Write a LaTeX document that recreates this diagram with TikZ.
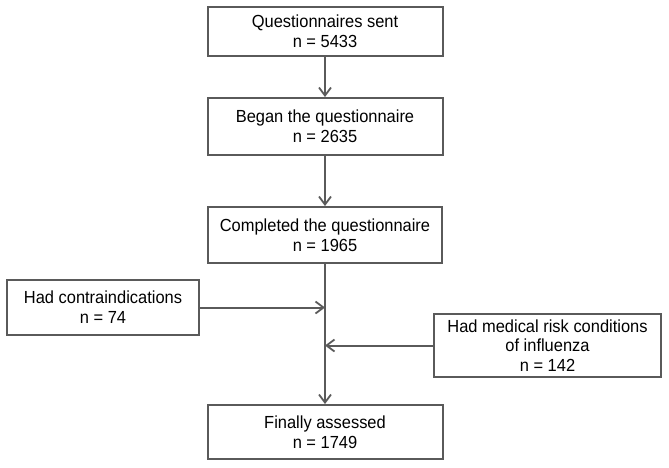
\documentclass[tikz,border=0pt]{standalone}
\usepackage{fontspec}
\setmainfont[FakeStretch=0.94]{Liberation Sans}
\usetikzlibrary{arrows.meta}
\definecolor{linegray}{HTML}{5A5A5A}
\begin{document}
\begin{tikzpicture}[x=1pt,y=-1pt,
  box/.style={draw=linegray, line width=2pt, align=center, inner sep=0pt,
    font=\fontsize{17.5}{19.8}\selectfont, text=black},
  flow/.style={draw=linegray, line width=2pt,
    -{Straight Barb[length=8pt,width=12pt,line width=1.8pt]}}]
\useasboundingbox (0,0) rectangle (669,467);
\node[box, minimum width=235pt, minimum height=49pt] (b1) at (325,31.5) {Questionnaires sent\\n = 5433};
\node[box, minimum width=235pt, minimum height=57pt] (b2) at (325,126.5) {Began the questionnaire\\n = 2635};
\node[box, minimum width=234pt, minimum height=56pt] (b3) at (325,235) {Completed the questionnaire\\n = 1965};
\node[box, minimum width=192pt, minimum height=55pt] (l) at (103,307.5) {Had contraindications\\n = 74};
\node[box, minimum width=227pt, minimum height=63pt] (r) at (547.5,345.5) {Had medical risk conditions\\of influenza\\n = 142};
\node[box, minimum width=235pt, minimum height=54pt] (b4) at (325,432) {Finally assessed\\n = 1749};
\draw[flow] (b1) -- (b2);
\draw[flow] (b2) -- (b3);
\draw[flow] (b3) -- (b4);
\coordinate (jl) at (l.east -| b3.south);
\coordinate (jr) at (r.west -| b3.south);
\draw[flow] (l.east) -- (jl);
\draw[flow] (r.west) -- (jr);
\end{tikzpicture}
\end{document}
